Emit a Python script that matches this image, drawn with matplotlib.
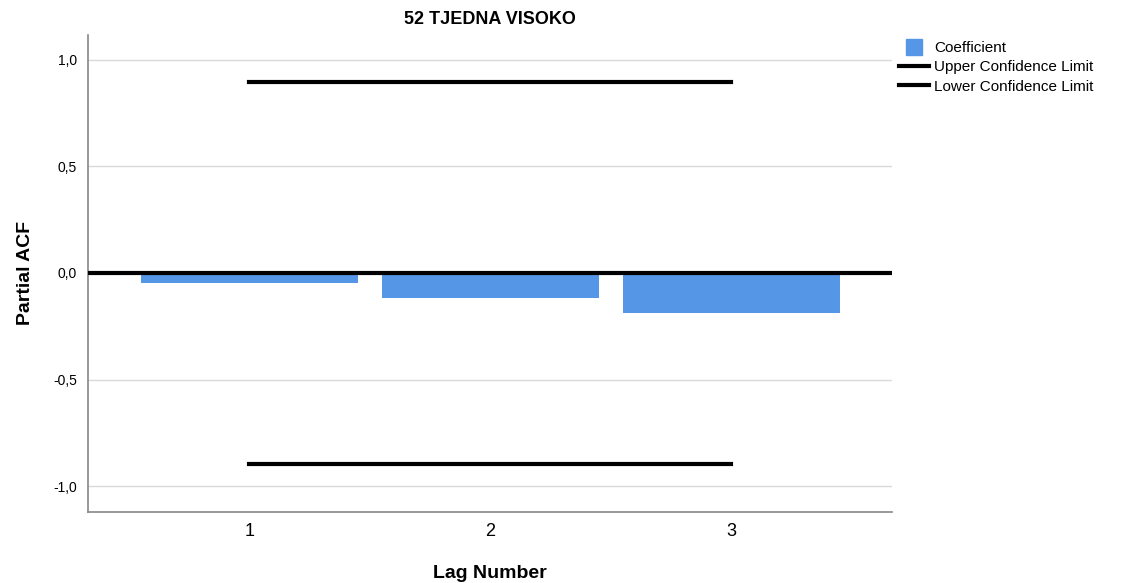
import numpy as np
import matplotlib.pyplot as plt
from matplotlib.lines import Line2D

plt.rcParams["font.family"] = ["Liberation Sans", "DejaVu Sans"]

lags = [1, 2, 3]
pacf = [-0.047, -0.118, -0.188]
upper_cl = [0.895, 0.895, 0.895]
lower_cl = [-0.895, -0.895, -0.895]
yticks = [-1.0, -0.5, 0.0, 0.5, 1.0]
ytick_labels = ["-1,0", "-0,5", "0,0", "0,5", "1,0"]

bar_color = "#5596e6"

fig = plt.figure(figsize=(11.3, 5.83), dpi=100)
ax = fig.add_axes([0.078, 0.122, 0.711, 0.818])

ax.set_axisbelow(True)
ax.yaxis.grid(True, color="#d9d9d9", linewidth=1)
ax.bar(lags, pacf, width=0.9, color=bar_color, zorder=2)
ax.plot(lags, upper_cl, color="black", linewidth=3, zorder=3)
ax.plot(lags, lower_cl, color="black", linewidth=3, zorder=3)
ax.axhline(0, color="black", linewidth=3, zorder=3)

ax.set_xlim(0.332, 3.664)
ax.set_ylim(-1.12, 1.115)
ax.set_xticks(lags)
ax.set_xticklabels([str(l) for l in lags], fontsize=13)
ax.set_yticks(yticks)
ax.set_yticklabels(ytick_labels, fontsize=10)
ax.tick_params(length=0, pad=8)

for s in ["top", "right"]:
    ax.spines[s].set_visible(False)
for s in ["left", "bottom"]:
    ax.spines[s].set_color("#888888")
    ax.spines[s].set_linewidth(1.2)

ax.set_title("52 TJEDNA VISOKO", fontsize=13, fontweight="bold", pad=8)
ax.set_xlabel("Lag Number", fontsize=14, fontweight="bold", labelpad=18)
ax.set_ylabel("Partial ACF", fontsize=14, fontweight="bold", labelpad=14)

handles = [
    Line2D([0], [0], color=bar_color, marker="s", markersize=11, linestyle="none"),
    Line2D([0], [0], color="black", linewidth=3),
    Line2D([0], [0], color="black", linewidth=3),
]
labels = ["Coefficient", "Upper Confidence Limit", "Lower Confidence Limit"]
fig.legend(handles, labels, loc="upper left", bbox_to_anchor=(0.79, 0.94),
           frameon=False, fontsize=11, handlelength=2.0, handletextpad=0.3,
           labelspacing=0.35, borderaxespad=0)

fig.savefig("out.png", dpi=100)
